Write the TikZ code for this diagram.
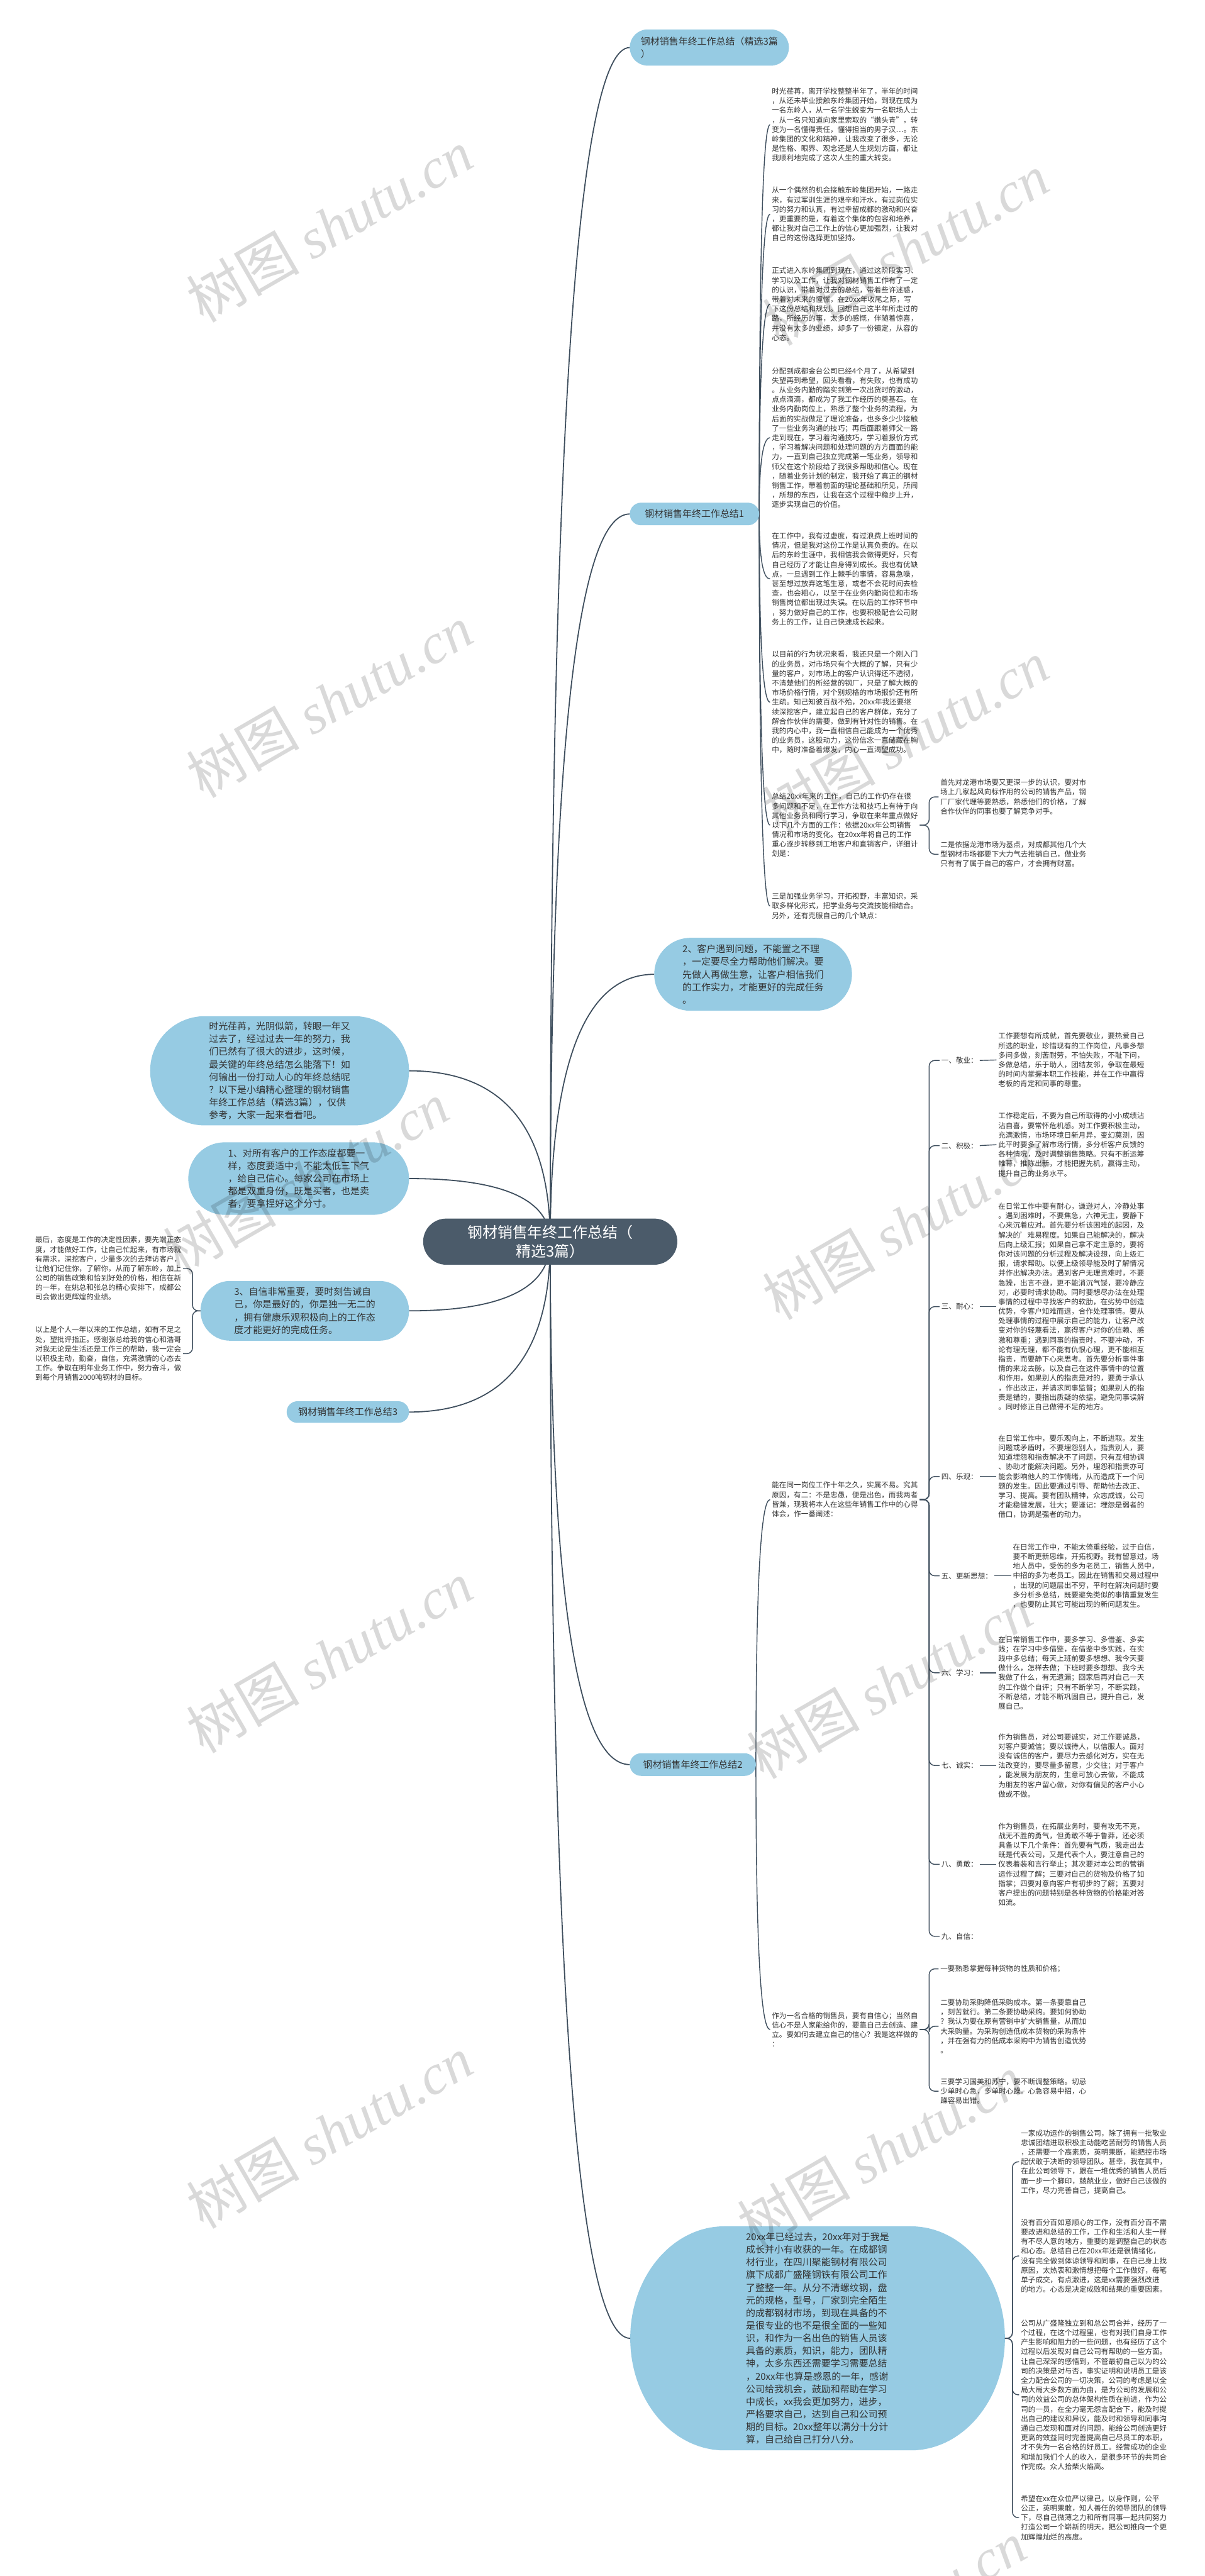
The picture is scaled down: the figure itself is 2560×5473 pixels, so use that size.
\documentclass[tikz,border=0pt]{standalone}
\usepackage{fontspec}
\setmainfont{Noto Sans CJK SC}
\newfontfamily\wmlatin{Liberation Serif}
\usetikzlibrary{calc}
\definecolor{boxblue}{HTML}{96CBE3}
\definecolor{hubc}{HTML}{4B5B6A}
\definecolor{linec}{HTML}{3F4F5E}
\definecolor{txtc}{HTML}{333333}
\pgfdeclarelayer{paper}
\pgfdeclarelayer{bg}
\pgfdeclarelayer{fg}
\pgfsetlayers{paper,bg,main,fg}
\tikzset{
 every node/.style={inner sep=0pt, outer sep=0pt},
 small/.style={font=\fontsize{15.5pt}{20.3pt}\selectfont, text=txtc, align=left, anchor=west, inner xsep=4pt},
 bluepill/.style={fill=boxblue, font=\fontsize{20pt}{27pt}\selectfont, text=txtc, align=left},
 hubnode/.style={fill=hubc, text=white, font=\fontsize{32pt}{40pt}\selectfont, align=center, rounded corners=49pt, minimum width=540pt, minimum height=98pt},
 conn1/.style={draw=linec, line width=2.4pt},
 conn2/.style={draw=linec, line width=1.9pt},
 curv/.style={to path={.. controls ($(\tikztostart)!0.667!(\tikztostart |- \tikztotarget)$) and ($(\tikztotarget)!0.667!(\tikztostart |- \tikztotarget)$) .. (\tikztotarget)}},
 bracket/.style={draw=linec, line width=1.9pt, rounded corners=12pt},
 wm/.style={rotate=30, text=black, text opacity=0.15, font=\fontsize{120pt}{120pt}\selectfont},
}
\begin{document}
\begin{tikzpicture}[x=1pt,y=-1pt]
\useasboundingbox (0,0) rectangle (2560,5473);
\begin{pgfonlayer}{paper}
\fill[white] (0,0) rectangle (2560,5473);
\end{pgfonlayer}

% ---------------- hub ----------------
\node[hubnode] (hub) at (1169,2638) {钢材销售年终工作总结（\\精选3篇）};

% ---------------- left side ----------------
\node[bluepill, rounded corners=116pt, minimum width=550pt, minimum height=232pt] (intro) at (594,2275)
{时光荏苒，光阴似箭，转眼一年又\\过去了，经过过去一年的努力，我\\们已然有了很大的进步，这时候，\\最关键的年终总结怎么能落下！如\\何输出一份打动人心的年终总结呢\\？以下是小编精心整理的钢材销售\\年终工作总结（精选3篇），仅供\\参考，大家一起来看看吧。};
\node[bluepill, rounded corners=77pt, minimum width=469pt, minimum height=154pt] (tip1) at (634.5,2504)
{1、对所有客户的工作态度都要一\\样，态度要适中，不能太低三下气\\，给自己信心。每家公司在市场上\\都是双重身份，既是买者，也是卖\\者，要拿捏好这个分寸。};
\node[bluepill, rounded corners=63pt, minimum width=443pt, minimum height=127pt] (tip3) at (647.5,2785)
{3、自信非常重要，要时刻告诫自\\己，你是最好的，你是独一无二的\\，拥有健康乐观积极向上的工作态\\度才能更好的完成任务。};
\node[bluepill, rounded corners=23pt, minimum width=260pt, minimum height=46pt] (sumC) at (739,3000) {钢材销售年终工作总结3};
\node[small] (lastA) at (71,2695)
{最后，态度是工作的决定性因素，要先端正态\\度，才能做好工作，让自己忙起来，有市场就\\有需求，深挖客户，少量多次的去拜访客户，\\让他们记住你，了解你，从而了解东岭，加上\\公司的销售政策和恰到好处的价格，相信在新\\的一年，在姚总和张总的精心安排下，成都公\\司会做出更辉煌的业绩。};
\node[small] (lastB) at (71,2876)
{以上是个人一年以来的工作总结，如有不足之\\处，望批评指正。感谢张总给我的信心和浩哥\\对我无论是生活还是工作三的帮助，我一定会\\以积极主动，勤奋，自信，充满激情的心态去\\工作。争取在明年业务工作中，努力奋斗，做\\到每个月销售2000吨钢材的目标。};

% ---------------- right side: top ----------------
\node[bluepill, rounded corners=38pt, minimum width=338pt, minimum height=77pt] (top) at (1507,101) {钢材销售年终工作总结（精选3篇\\）};
\node[bluepill, rounded corners=24pt, minimum width=275pt, minimum height=48pt] (sumA) at (1475.5,1092) {钢材销售年终工作总结1};

\node[small] (b1) at (1636,265) {时光荏苒，离开学校整整半年了，半年的时间\\，从还未毕业接触东岭集团开始，到现在成为\\一名东岭人，从一名学生蜕变为一名职场人士\\，从一名只知道向家里索取的“嫩头青”，转\\变为一名懂得责任，懂得担当的男子汉…。东\\岭集团的文化和精神，让我改变了很多，无论\\是性格、眼界、观念还是人生规划方面，都让\\我顺利地完成了这次人生的重大转变。};
\node[small] (b2) at (1636,455) {从一个偶然的机会接触东岭集团开始，一路走\\来，有过军训生涯的艰辛和汗水，有过岗位实\\习的努力和认真，有过幸留成都的激动和兴奋\\，更重要的是，有着这个集体的包容和培养，\\都让我对自己工作上的信心更加强烈，让我对\\自己的这份选择更加坚持。};
\node[small] (b3) at (1636,646) {正式进入东岭集团到现在，通过这阶段实习、\\学习以及工作，让我对钢材销售工作有了一定\\的认识，带着对过去的总结，带着些许迷惑，\\带着对未来的憧憬，在20xx年收尾之际，写\\下这份总结和规划。回想自己这半年所走过的\\路，所经历的事，太多的感慨，伴随着惊喜，\\并没有太多的业绩，却多了一份镇定，从容的\\心态。};
\node[small] (b4) at (1636,930) {分配到成都金台公司已经4个月了，从希望到\\失望再到希望，回头看看，有失败，也有成功\\。从业务内勤的踏实到第一次出货时的激动，\\点点滴滴，都成为了我工作经历的奠基石。在\\业务内勤岗位上，熟悉了整个业务的流程，为\\后面的实战做足了理论准备，也多多少少接触\\了一些业务沟通的技巧；再后面跟着师父一路\\走到现在，学习着沟通技巧，学习着报价方式\\，学习着解决问题和处理问题的方方面面的能\\力，一直到自己独立完成第一笔业务，领导和\\师父在这个阶段给了我很多帮助和信心。现在\\，随着业务计划的制定，我开始了真正的钢材\\销售工作，带着前面的理论基础和所见，所闻\\，所想的东西，让我在这个过程中稳步上升，\\逐步实现自己的价值。};
\node[small] (b5) at (1636,1230) {在工作中，我有过虚度，有过浪费上班时间的\\情况，但是我对这份工作是认真负责的。在以\\后的东岭生涯中，我相信我会做得更好，只有\\自己经历了才能让自身得到成长。我也有优缺\\点，一旦遇到工作上棘手的事情，容易急噪，\\甚至想过放弃这笔生意，或者不会花时间去检\\查，也会粗心，以至于在业务内勤岗位和市场\\销售岗位都出现过失误。在以后的工作环节中\\，努力做好自己的工作，也要积极配合公司财\\务上的工作，让自己快速成长起来。};
\node[small] (b6) at (1636,1492) {以目前的行为状况来看，我还只是一个刚入门\\的业务员，对市场只有个大概的了解，只有少\\量的客户，对市场上的客户认识得还不透彻，\\不清楚他们的所经营的钢厂，只是了解大概的\\市场价格行情，对个别规格的市场报价还有所\\生疏。知己知彼百战不殆，20xx年我还要继\\续深挖客户，建立起自己的客户群体，充分了\\解合作伙伴的需要，做到有针对性的销售。在\\我的内心中，我一直相信自己能成为一个优秀\\的业务员，这股动力，这份信念一直储藏在胸\\中，随时准备着爆发，内心一直渴望成功。};
\node[small] (b7) at (1636,1753) {总结20xx年来的工作，自己的工作仍存在很\\多问题和不足，在工作方法和技巧上有待于向\\其他业务员和同行学习，争取在来年重点做好\\以下几个方面的工作：依据20xx年公司销售\\情况和市场的变化。在20xx年将自己的工作\\重心逐步转移到工地客户和直销客户，详细计\\划是：};
\node[small] (b8) at (1636,1925) {三是加强业务学习，开拓视野，丰富知识，采\\取多样化形式，把学业务与交流技能相结合。\\另外，还有克服自己的几个缺点：};
\node[small] (c7a) at (1994,1693) {首先对龙港市场要又更深一步的认识，要对市\\场上几家起风向标作用的公司的销售产品，钢\\厂厂家代理等要熟悉，熟悉他们的价格，了解\\合作伙伴的同事也要了解竞争对手。};
\node[small] (c7b) at (1994,1815) {二是依据龙港市场为基点，对成都其他几个大\\型钢材市场都要下大力气去推销自己，做业务\\只有有了属于自己的客户，才会拥有财富。};

\node[bluepill, rounded corners=77pt, minimum width=420pt, minimum height=155pt] (tip2) at (1600,2070)
{2、客户遇到问题，不能置之不理\\，一定要尽全力帮助他们解决。要\\先做人再做生意，让客户相信我们\\的工作实力，才能更好的完成任务\\。};

% ---------------- summary 2 ----------------
\node[bluepill, rounded corners=24pt, minimum width=268pt, minimum height=48pt] (sumB) at (1472,3749) {钢材销售年终工作总结2};
\node[small] (n1) at (1636,3186) {能在同一岗位工作十年之久，实属不易。究其\\原因，有二：不是忠愚，便是出色，而我两者\\皆兼，现我将本人在这些年销售工作中的心得\\体会，作一番阐述：};
\node[small] (k1) at (1996,2253) {一、敬业：};
\node[small] (k2) at (1996,2434) {二、积极：};
\node[small] (k3) at (1996,2776) {三、耐心：};
\node[small] (k4) at (1996,3137) {四、乐观：};
\node[small] (k5) at (1996,3348) {五、更新思想：};
\node[small] (k6) at (1996,3554) {六、学习：};
\node[small] (k7) at (1996,3751) {七、诚实：};
\node[small] (k8) at (1996,3961) {八、勇敢：};
\node[small] (k9) at (1996,4114) {九、自信：};

\node[small] (d1) at (2117,2252) {工作要想有所成就，首先要敬业，要热爱自己\\所选的职业，珍惜现有的工作岗位，凡事多想\\多问多做，刻苦耐劳，不怕失败，不耻下问，\\多做总结，乐于助人，团结友邻，争取在最短\\的时间内掌握本职工作技能，并在工作中赢得\\老板的肯定和同事的尊重。};
\node[small] (d2) at (2117,2432) {工作稳定后，不要为自己所取得的小小成绩沾\\沾自喜，要常怀危机感。对工作要积极主动，\\充满激情，市场环境日新月异，变幻莫测，因\\此平时要多了解市场行情，多分析客户反馈的\\各种情况，及时调整销售策略。只有不断运筹\\帷幕，推陈出新，才能把握先机，赢得主动，\\提升自己的业务水平。};
\node[small] (d3) at (2117,2776) {在日常工作中要有耐心，谦逊对人，冷静处事\\。遇到困难时，不要焦急，六神无主，要静下\\心来沉着应对。首先要分析该困难的起因，及\\解决的'难易程度。如果自己能解决的，解决\\后向上级汇报；如果自己拿不定主意的，要将\\你对该问题的分析过程及解决设想，向上级汇\\报，请求帮助。以便上级领导能及时了解情况\\并作出解决办法。遇到客户无理责难时，不要\\急躁，出言不逊，更不能消沉气馁，要冷静应\\对，必要时请求协助。同时要想尽办法在处理\\事情的过程中寻找客户的软肋，在劣势中创造\\优势，令客户知难而退，合作处理事情。要从\\处理事情的过程中展示自己的能力，让客户改\\变对你的轻蔑看法，赢得客户对你的信赖、感\\激和尊重；遇到同事的指责时，不要冲动，不\\论有理无理，都不能有仇恨心理，更不能相互\\指责，而要静下心来思考。首先要分析事件事\\情的来龙去脉，以及自己在这件事情中的位置\\和作用，如果别人的指责是对的，要勇于承认\\，作出改正，并请求同事监督；如果别人的指\\责是错的，要指出质疑的依据，避免同事误解\\。同时修正自己做得不足的地方。};
\node[small] (d4) at (2117,3137) {在日常工作中，要乐观向上，不断进取。发生\\问题或矛盾时，不要埋怨别人，指责别人，要\\知道埋怨和指责解决不了问题，只有互相协调\\、协助才能解决问题。另外，埋怨和指责亦可\\能会影响他人的工作情绪，从而造成下一个问\\题的发生。因此要通过引导、帮助他去改正、\\学习、提高。要有团队精神，众志成诚，公司\\才能稳健发展，壮大；要谨记：埋怨是弱者的\\借口，协调是强者的动力。};
\node[small] (d5) at (2148,3348) {在日常工作中，不能太倚重经验，过于自信，\\要不断更新思维，开拓视野。我有留意过，场\\地人员中，受伤的多为老员工，销售人员中，\\中招的多为老员工。因此在销售和交易过程中\\，出现的问题层出不穷，平时在解决问题时要\\多分析多总结，既要避免类似的事情重复发生\\，也要防止其它可能出现的新问题发生。};
\node[small] (d6) at (2117,3554) {在日常销售工作中，要多学习、多借鉴、多实\\践；在学习中多借鉴，在借鉴中多实践，在实\\践中多总结；每天上班前要多想想、我今天要\\做什么，怎样去做；下班时要多想想、我今天\\我做了什么，有无遗漏；回家后再对自己一天\\的工作做个自评；只有不断学习，不断实践，\\不断总结，才能不断巩固自己，提升自己，发\\展自己。};
\node[small] (d7) at (2117,3751) {作为销售员，对公司要诚实，对工作要诚恳，\\对客户要诚信；要以诚待人，以信服人。面对\\没有诚信的客户，要尽力去感化对方，实在无\\法改变的，要尽量多留意，少交往；对于客户\\，能发展为朋友的，生意可放心去做，不能成\\为朋友的客户留心做，对你有偏见的客户小心\\做或不做。};
\node[small] (d8) at (2117,3961) {作为销售员，在拓展业务时，要有攻无不克，\\战无不胜的勇气，但勇敢不等于鲁莽，还必须\\具备以下几个条件：首先要有气质，我走出去\\既是代表公司，又是代表个人，要注意自己的\\仪表着装和言行举止；其次要对本公司的营销\\运作过程了解；三要对自己的货物及价格了如\\指掌；四要对意向客户有初步的了解；五要对\\客户提出的问题特别是各种货物的价格能对答\\如流。};

\node[small] (n2) at (1636,4312) {作为一名合格的销售员，要有自信心；当然自\\信心不是人家能给你的，要靠自己去创造、建\\立。要如何去建立自己的信心？我是这样做的\\：};
\node[small] (e1) at (1994,4183) {一要熟悉掌握每种货物的性质和价格；};
\node[small] (e2) at (1994,4305) {二要协助采购降低采购成本。第一条要靠自己\\，刻苦就行。第二条要协助采购。要如何协助\\？我认为要在原有营销中扩大销售量，从而加\\大采购量。为采购创造低成本货物的采购条件\\，并在强有力的低成本采购中为销售创造优势\\。};
\node[small] (e3) at (1994,4443) {三要学习国美和苏宁，要不断调整策略。切忌\\少单时心急，多单时心躁。心急容易中招，心\\躁容易出错。};

% ---------------- big rounded topic ----------------
\node[font=\fontsize{20pt}{26.9pt}\selectfont, text=txtc, align=left, minimum width=796pt, minimum height=476pt] (ell) at (1737,4968)
{20xx年已经过去，20xx年对于我是\\成长并小有收获的一年。在成都钢\\材行业，在四川聚能钢材有限公司\\旗下成都广盛隆钢铁有限公司工作\\了整整一年。从分不清螺纹钢，盘\\元的规格，型号，厂家到完全陌生\\的成都钢材市场，到现在具备的不\\是很专业的也不是很全面的一些知\\识，和作为一名出色的销售人员该\\具备的素质，知识，能力，团队精\\神，太多东西还需要学习需要总结\\，20xx年也算是感恩的一年，感谢\\公司给我机会，鼓励和帮助在学习\\中成长，xx我会更加努力，进步，\\严格要求自己，达到自己和公司预\\期的目标。20xx整年以满分十分计\\算，自己给自己打分八分。};
\node[small] (p1) at (2165,4593) {一家成功运作的销售公司，除了拥有一批敬业\\忠诚团结进取积极主动能吃苦耐劳的销售人员\\，还需要一个高素质，英明果断，能把控市场\\起伏敢于决断的领导团队。甚幸，我在其中，\\在此公司领导下，跟在一堆优秀的销售人员后\\面一步一个脚印，兢兢业业，做好自己该做的\\工作，尽力完善自己，提高自己。};
\node[small] (p2) at (2165,4793) {没有百分百如意顺心的工作，没有百分百不需\\要改进和总结的工作，工作和生活和人生一样\\有不尽人意的地方，重要的是调整自己的状态\\和心态。总结自己在20xx年还是很情绪化，\\没有完全做到体谅领导和同事，在自己身上找\\原因，太热衷和激情想把每个工作做好，每笔\\单子成交，有点激进，这是xx需要强烈改进\\的地方。心态是决定成败和结果的重要因素。};
\node[small] (p3) at (2165,5088) {公司从广盛隆独立到和总公司合并，经历了一\\个过程，在这个过程里，也有对我们自身工作\\产生影响和阻力的一些问题，也有经历了这个\\过程以后发现对自己公司有帮助的一些方面。\\让自己深深的感悟到，不管最初自己以为的公\\司的决策是对与否，事实证明和说明员工是该\\全力配合公司的一切决策，公司的考虑是以全\\局大局大多数方面为由，是为公司的发展和公\\司的效益公司的总体架构性质在前进，作为公\\司的一员，在全力毫无怨言配合下，能及时提\\出自己的建议和异议，能及时和领导和同事沟\\通自己发现和面对的问题，能给公司创造更好\\更高的效益同时完善提高自己尽员工的本职，\\才不失为一名合格的好员工。经营成功的企业\\和增加我们个人的收入，是很多环节的共同合\\作完成。众人拾柴火焰高。};
\node[small] (p4) at (2165,5349) {希望在xx在众位严以律己，以身作则，公平\\公正，英明果敢，知人善任的领导团队的领导\\下，尽自己微薄之力和所有同事一起共同努力\\打造公司一个崭新的明天，把公司推向一个更\\加辉煌灿烂的高度。};

% ---------------- connectors ----------------
\begin{pgfonlayer}{bg}
\fill[boxblue] ([xshift=200pt]ell.north west) -- ([xshift=-200pt]ell.north east)
  arc[start angle=270, end angle=360, x radius=200, y radius=238]
  arc[start angle=0, end angle=90, x radius=200, y radius=238]
  -- ([xshift=200pt]ell.south west)
  arc[start angle=90, end angle=180, x radius=200, y radius=238]
  arc[start angle=180, end angle=270, x radius=200, y radius=238] -- cycle;
\foreach \t in {intro,tip1,tip3,sumC}{
  \draw[conn1] (hub.center) to[curv] (\t.east);
}
\foreach \t in {top,sumA,tip2,sumB,ell}{
  \draw[conn1] (hub.center) to[curv] (\t.west);
}
\foreach \t in {b1,b2,b3,b4,b5,b6,b7,b8}{
  \draw[conn2] (sumA.east) to[curv] (\t.west);
}
\foreach \t in {n1,n2}{
  \draw[conn2] (sumB.east) to[curv] (\t.west);
}
\foreach \t in {c7a,c7b}{
  \draw[bracket] (b7.east) -- ++(20,0) |- (\t.west);
}
\foreach \t in {k1,k2,k3,k4,k5,k6,k7,k8,k9}{
  \draw[bracket] (n1.east) -- ++(20,0) |- (\t.west);
}
\foreach \a/\b in {k1/d1,k2/d2,k3/d3,k4/d4,k5/d5,k6/d6,k7/d7,k8/d8}{
  \draw[conn2] (\a.east) -- (\b.west);
}
\foreach \t in {e1,e2,e3}{
  \draw[bracket] (n2.east) -- ++(20,0) |- (\t.west);
}
\foreach \t in {p1,p2,p3,p4}{
  \draw[bracket] (ell.east) -- ++(16,0) |- (\t.west);
}
\foreach \t in {lastA,lastB}{
  \draw[bracket] (tip3.west) -- ++(-17,0) |- (\t.east);
}
\end{pgfonlayer}

% ---------------- watermark ----------------
\begin{pgfonlayer}{fg}
\foreach \x/\y [count=\i] in {700/480,700/1490,650/2503,700/3520,700/4530,1924/530,1924/1565,1924/2600,1890/3575,1870/4570,1876/5560}{
  \node[wm] (wm\i) at (\x,\y) {树图 {\wmlatin\itshape shutu.cn}};
}
\end{pgfonlayer}
\end{tikzpicture}
\end{document}
